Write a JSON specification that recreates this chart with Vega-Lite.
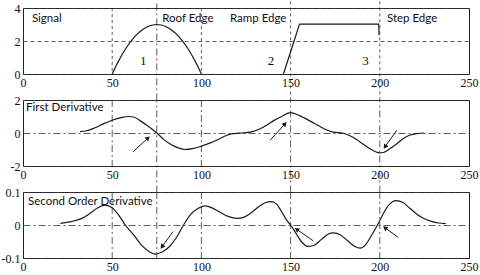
{
  "$schema": "https://vega.github.io/schema/vega-lite/v6.json",
  "padding": {"left": 0, "right": 0, "top": 0, "bottom": 0},
  "background": "white",
  "config": {
    "view": {"stroke": "#222", "strokeWidth": 1},
    "axis": {"labelFont": "Liberation Serif", "labelFontSize": 12, "labelColor": "#111", "domain": false, "ticks": false, "labelPadding": 3, "labelFlush": false, "labelOverlap": false, "labelBound": false}
  },
  "datasets": {
    "signal": [
      {"x": 50, "y": 0, "part": "roof"}, {"x": 52.5, "y": 0.57, "part": "roof"}, {"x": 55, "y": 1.08, "part": "roof"},
      {"x": 57.5, "y": 1.53, "part": "roof"}, {"x": 60, "y": 1.92, "part": "roof"}, {"x": 62.5, "y": 2.25, "part": "roof"},
      {"x": 65, "y": 2.52, "part": "roof"}, {"x": 67.5, "y": 2.73, "part": "roof"}, {"x": 70, "y": 2.88, "part": "roof"},
      {"x": 72.5, "y": 2.97, "part": "roof"}, {"x": 75, "y": 3.0, "part": "roof"}, {"x": 77.5, "y": 2.97, "part": "roof"},
      {"x": 80, "y": 2.88, "part": "roof"}, {"x": 82.5, "y": 2.73, "part": "roof"}, {"x": 85, "y": 2.52, "part": "roof"},
      {"x": 87.5, "y": 2.25, "part": "roof"}, {"x": 90, "y": 1.92, "part": "roof"}, {"x": 92.5, "y": 1.53, "part": "roof"},
      {"x": 95, "y": 1.08, "part": "roof"}, {"x": 97.5, "y": 0.57, "part": "roof"}, {"x": 100, "y": 0, "part": "roof"},
      {"x": 146, "y": 0, "part": "ramp"}, {"x": 155, "y": 3.02, "part": "ramp"}, {"x": 199.4, "y": 3.02, "part": "ramp"},
      {"x": 199.6, "y": 2.35, "part": "ramp"}
    ],
    "d1": [
      {"x": 32, "y": 0.08}, {"x": 35, "y": 0.12}, {"x": 40, "y": 0.3}, {"x": 45, "y": 0.55}, {"x": 50, "y": 0.77},
      {"x": 55, "y": 0.93}, {"x": 59, "y": 1.0}, {"x": 62, "y": 0.97}, {"x": 66, "y": 0.72}, {"x": 70, "y": 0.42},
      {"x": 75, "y": 0.0}, {"x": 79, "y": -0.4}, {"x": 83, "y": -0.7}, {"x": 87, "y": -0.9}, {"x": 91, "y": -1.0},
      {"x": 95, "y": -0.95}, {"x": 100, "y": -0.8}, {"x": 105, "y": -0.6}, {"x": 110, "y": -0.36}, {"x": 114, "y": -0.15},
      {"x": 117, "y": -0.05}, {"x": 121, "y": -0.01}, {"x": 125, "y": 0.02}, {"x": 129, "y": 0.1}, {"x": 133, "y": 0.26},
      {"x": 137, "y": 0.5}, {"x": 141, "y": 0.78}, {"x": 145, "y": 1.0}, {"x": 150, "y": 1.23}, {"x": 155, "y": 1.05},
      {"x": 161, "y": 0.72}, {"x": 166, "y": 0.42}, {"x": 170, "y": 0.2}, {"x": 174, "y": 0.05}, {"x": 179, "y": 0.0},
      {"x": 183, "y": -0.15}, {"x": 187, "y": -0.4}, {"x": 191, "y": -0.7}, {"x": 195, "y": -0.98}, {"x": 198, "y": -1.15},
      {"x": 200, "y": -1.2}, {"x": 202, "y": -1.18}, {"x": 205, "y": -1.0}, {"x": 209, "y": -0.7}, {"x": 213, "y": -0.35},
      {"x": 217, "y": -0.12}, {"x": 221, "y": -0.03}, {"x": 225, "y": 0}
    ],
    "d2": [
      {"x": 21, "y": 0.005}, {"x": 27, "y": 0.01}, {"x": 33, "y": 0.02}, {"x": 38, "y": 0.037}, {"x": 42, "y": 0.052},
      {"x": 46, "y": 0.06}, {"x": 50, "y": 0.052}, {"x": 54, "y": 0.027}, {"x": 57.3, "y": 0.0}, {"x": 62, "y": -0.03},
      {"x": 67, "y": -0.064}, {"x": 71, "y": -0.082}, {"x": 74, "y": -0.088}, {"x": 78, "y": -0.082}, {"x": 82, "y": -0.066},
      {"x": 86, "y": -0.038}, {"x": 90, "y": 0}, {"x": 94, "y": 0.032}, {"x": 98, "y": 0.05}, {"x": 102, "y": 0.058},
      {"x": 106, "y": 0.052}, {"x": 110, "y": 0.04}, {"x": 115, "y": 0.026}, {"x": 120, "y": 0.02}, {"x": 124, "y": 0.024},
      {"x": 128, "y": 0.037}, {"x": 132, "y": 0.055}, {"x": 136, "y": 0.068}, {"x": 139, "y": 0.071}, {"x": 142, "y": 0.064},
      {"x": 145, "y": 0.04}, {"x": 148, "y": 0.013}, {"x": 150, "y": 0}, {"x": 153, "y": -0.025}, {"x": 156, "y": -0.05},
      {"x": 159.5, "y": -0.065}, {"x": 163, "y": -0.062}, {"x": 167, "y": -0.045}, {"x": 171, "y": -0.028}, {"x": 174, "y": -0.024},
      {"x": 178, "y": -0.03}, {"x": 182, "y": -0.048}, {"x": 186, "y": -0.065}, {"x": 189, "y": -0.07}, {"x": 192, "y": -0.06},
      {"x": 195, "y": -0.035}, {"x": 198.7, "y": 0}, {"x": 202, "y": 0.035}, {"x": 205, "y": 0.06}, {"x": 209, "y": 0.074},
      {"x": 213, "y": 0.068}, {"x": 217, "y": 0.05}, {"x": 221, "y": 0.032}, {"x": 225, "y": 0.019}, {"x": 229, "y": 0.011},
      {"x": 233, "y": 0.006}, {"x": 237, "y": 0.004}
    ],
    "vmarks": [{"x": 50}, {"x": 75}, {"x": 100}, {"x": 150}, {"x": 200}],
    "labels": [
      {"panel": 1, "x": 5, "y": 3.33, "text": "Signal"},
      {"panel": 1, "x": 78, "y": 3.33, "text": "Roof Edge"},
      {"panel": 1, "x": 116, "y": 3.33, "text": "Ramp Edge"},
      {"panel": 1, "x": 204, "y": 3.33, "text": "Step Edge"},
      {"panel": 2, "x": 1.7, "y": 1.5, "text": "First Derivative"},
      {"panel": 3, "x": 2.8, "y": 0.07, "text": "Second Order Derivative"}
    ],
    "nums": [
      {"x": 67.4, "y": 0.8, "text": "1"},
      {"x": 139, "y": 0.8, "text": "2"},
      {"x": 192, "y": 0.8, "text": "3"}
    ],
    "arrows": [
      {"panel": 2, "x": 61.7, "y": -1.14, "x2": 70.1, "y2": -0.3, "heading": 47},
      {"panel": 2, "x": 138.5, "y": -0.44, "x2": 146.9, "y2": 0.56, "heading": 42},
      {"panel": 2, "x": 209.5, "y": 0.16, "x2": 202.9, "y2": -0.84, "heading": 215},
      {"panel": 3, "x": 84.1, "y": -0.02, "x2": 77.9, "y2": -0.066, "heading": 216},
      {"panel": 3, "x": 162.7, "y": -0.048, "x2": 153.4, "y2": -0.013, "heading": 305},
      {"panel": 3, "x": 210.4, "y": -0.038, "x2": 202.9, "y2": -0.008, "heading": 307}
    ]
  },
  "spacing": 26,
  "bounds": "flush",
  "vconcat": [
    {
      "width": 446, "height": 66,
      "layer": [
        {
          "data": {"name": "vmarks"},
          "transform": [{"filter": "datum.x == 50 || datum.x == 100"}],
          "mark": {"type": "rule", "color": "#333", "strokeWidth": 0.8, "strokeDash": [3, 3]},
          "encoding": {"x": {"field": "x", "type": "quantitative", "title": null, "scale": {"domain": [0, 250], "nice": false, "zero": false}}}
        },
        {
          "data": {"name": "vmarks"},
          "transform": [{"filter": "datum.x == 150 || datum.x == 200"}],
          "mark": {"type": "rule", "color": "#333", "strokeWidth": 0.8, "strokeDash": [3, 3]},
          "encoding": {
            "x": {"field": "x", "type": "quantitative", "title": null, "scale": {"domain": [0, 250], "nice": false, "zero": false}},
            "y": {"datum": -1.6, "type": "quantitative", "title": null, "scale": {"domain": [0, 4], "nice": false, "zero": false}},
            "y2": {"datum": 4.42}
          }
        },
        {
          "data": {"name": "vmarks"},
          "transform": [{"filter": "datum.x == 75"}],
          "mark": {"type": "rule", "color": "#333", "strokeWidth": 0.8, "strokeDash": [7, 3, 2, 3]},
          "encoding": {
            "x": {"field": "x", "type": "quantitative", "title": null, "scale": {"domain": [0, 250], "nice": false, "zero": false}},
            "y": {"datum": -1.6, "type": "quantitative", "title": null, "scale": {"domain": [0, 4], "nice": false, "zero": false}},
            "y2": {"datum": 4.42}
          }
        },
        {
          "data": {"name": "signal"},
          "mark": {"type": "line", "color": "#1a1a1a", "strokeWidth": 1.2},
          "encoding": {
            "x": {"field": "x", "type": "quantitative", "title": null, "scale": {"domain": [0, 250], "nice": false, "zero": false}, "axis": {"values": [0, 50, 100, 150, 200, 250], "grid": false}},
            "y": {"field": "y", "type": "quantitative", "title": null, "scale": {"domain": [0, 4], "nice": false, "zero": false}, "axis": {"values": [0, 2, 4], "tickCount": 20, "grid": true, "gridColor": "#333", "gridWidth": 0.8, "gridDash": [4, 3], "labelExpr": "replace(format(datum.value, '~r'), '−', '-')"}},
            "detail": {"field": "part"}
          }
        },
        {
          "data": {"name": "labels"},
          "transform": [{"filter": "datum.panel == 1"}],
          "mark": {"type": "text", "font": "Lato", "fontSize": 11.5, "align": "left", "baseline": "middle", "color": "#111"},
          "encoding": {
            "x": {"field": "x", "type": "quantitative", "title": null, "scale": {"domain": [0, 250], "nice": false, "zero": false}},
            "y": {"field": "y", "type": "quantitative", "title": null, "scale": {"domain": [0, 4], "nice": false, "zero": false}},
            "text": {"field": "text"}
          }
        },
        {
          "data": {"name": "nums"},
          "mark": {"type": "text", "font": "Liberation Serif", "fontSize": 13, "align": "center", "baseline": "middle", "color": "#111"},
          "encoding": {
            "x": {"field": "x", "type": "quantitative", "title": null, "scale": {"domain": [0, 250], "nice": false, "zero": false}},
            "y": {"field": "y", "type": "quantitative", "title": null, "scale": {"domain": [0, 4], "nice": false, "zero": false}},
            "text": {"field": "text"}
          }
        }
      ]
    },
    {
      "width": 446, "height": 66,
      "layer": [
        {
          "data": {"name": "vmarks"},
          "transform": [{"filter": "datum.x == 50 || datum.x == 100"}],
          "mark": {"type": "rule", "color": "#333", "strokeWidth": 0.8, "strokeDash": [7, 3, 2, 3]},
          "encoding": {"x": {"field": "x", "type": "quantitative", "title": null, "scale": {"domain": [0, 250], "nice": false, "zero": false}}}
        },
        {
          "data": {"name": "vmarks"},
          "transform": [{"filter": "datum.x == 75 || datum.x == 150 || datum.x == 200"}],
          "mark": {"type": "rule", "color": "#333", "strokeWidth": 0.8, "strokeDash": [7, 3, 2, 3]},
          "encoding": {
            "x": {"field": "x", "type": "quantitative", "title": null, "scale": {"domain": [0, 250], "nice": false, "zero": false}},
            "y": {"datum": -3.6, "type": "quantitative", "title": null, "scale": {"domain": [-2, 2], "nice": false, "zero": false}},
            "y2": {"datum": 2}
          }
        },
        {
          "data": {"name": "d1"},
          "mark": {"type": "line", "color": "#1a1a1a", "strokeWidth": 1.2, "interpolate": "monotone"},
          "encoding": {
            "x": {"field": "x", "type": "quantitative", "title": null, "scale": {"domain": [0, 250], "nice": false, "zero": false}, "axis": {"values": [0, 50, 100, 150, 200, 250], "grid": false}},
            "y": {"field": "y", "type": "quantitative", "title": null, "scale": {"domain": [-2, 2], "nice": false, "zero": false}, "axis": {"values": [-2, 0, 2], "tickCount": 20, "grid": true, "gridColor": "#333", "gridWidth": 0.8, "gridDash": [7, 3, 2, 3], "labelExpr": "replace(format(datum.value, '~r'), '−', '-')"}}
          }
        },
        {
          "data": {"name": "arrows"},
          "transform": [{"filter": "datum.panel == 2"}],
          "mark": {"type": "rule", "color": "#1a1a1a", "strokeWidth": 1},
          "encoding": {
            "x": {"field": "x", "type": "quantitative", "title": null, "scale": {"domain": [0, 250], "nice": false, "zero": false}},
            "y": {"field": "y", "type": "quantitative", "title": null, "scale": {"domain": [-2, 2], "nice": false, "zero": false}},
            "x2": {"field": "x2"},
            "y2": {"field": "y2"}
          }
        },
        {
          "data": {"name": "arrows"},
          "transform": [{"filter": "datum.panel == 2"}],
          "mark": {"type": "point", "shape": "triangle-up", "filled": true, "size": 28, "color": "#1a1a1a", "opacity": 1},
          "encoding": {
            "x": {"field": "x2", "type": "quantitative", "title": null, "scale": {"domain": [0, 250], "nice": false, "zero": false}},
            "y": {"field": "y2", "type": "quantitative", "title": null, "scale": {"domain": [-2, 2], "nice": false, "zero": false}},
            "angle": {"field": "heading", "type": "quantitative", "scale": null}
          }
        },
        {
          "data": {"name": "labels"},
          "transform": [{"filter": "datum.panel == 2"}],
          "mark": {"type": "text", "font": "Lato", "fontSize": 11.5, "align": "left", "baseline": "middle", "color": "#111"},
          "encoding": {
            "x": {"field": "x", "type": "quantitative", "title": null, "scale": {"domain": [0, 250], "nice": false, "zero": false}},
            "y": {"field": "y", "type": "quantitative", "title": null, "scale": {"domain": [-2, 2], "nice": false, "zero": false}},
            "text": {"field": "text"}
          }
        }
      ]
    },
    {
      "width": 446, "height": 66,
      "layer": [
        {
          "data": {"name": "vmarks"},
          "mark": {"type": "rule", "color": "#333", "strokeWidth": 0.8, "strokeDash": [7, 3, 2, 3]},
          "encoding": {"x": {"field": "x", "type": "quantitative", "title": null, "scale": {"domain": [0, 250], "nice": false, "zero": false}}}
        },
        {
          "data": {"name": "d2"},
          "mark": {"type": "line", "color": "#1a1a1a", "strokeWidth": 1.2, "interpolate": "monotone"},
          "encoding": {
            "x": {"field": "x", "type": "quantitative", "title": null, "scale": {"domain": [0, 250], "nice": false, "zero": false}, "axis": {"values": [0, 50, 100, 150, 200, 250], "grid": false}},
            "y": {"field": "y", "type": "quantitative", "title": null, "scale": {"domain": [-0.1, 0.1], "nice": false, "zero": false}, "axis": {"values": [-0.1, 0, 0.1], "tickCount": 20, "grid": true, "gridColor": "#333", "gridWidth": 0.8, "gridDash": [7, 3, 2, 3], "labelExpr": "replace(format(datum.value, '~r'), '−', '-')"}}
          }
        },
        {
          "data": {"name": "arrows"},
          "transform": [{"filter": "datum.panel == 3"}],
          "mark": {"type": "rule", "color": "#1a1a1a", "strokeWidth": 1},
          "encoding": {
            "x": {"field": "x", "type": "quantitative", "title": null, "scale": {"domain": [0, 250], "nice": false, "zero": false}},
            "y": {"field": "y", "type": "quantitative", "title": null, "scale": {"domain": [-0.1, 0.1], "nice": false, "zero": false}},
            "x2": {"field": "x2"},
            "y2": {"field": "y2"}
          }
        },
        {
          "data": {"name": "arrows"},
          "transform": [{"filter": "datum.panel == 3"}],
          "mark": {"type": "point", "shape": "triangle-up", "filled": true, "size": 28, "color": "#1a1a1a", "opacity": 1},
          "encoding": {
            "x": {"field": "x2", "type": "quantitative", "title": null, "scale": {"domain": [0, 250], "nice": false, "zero": false}},
            "y": {"field": "y2", "type": "quantitative", "title": null, "scale": {"domain": [-0.1, 0.1], "nice": false, "zero": false}},
            "angle": {"field": "heading", "type": "quantitative", "scale": null}
          }
        },
        {
          "data": {"name": "labels"},
          "transform": [{"filter": "datum.panel == 3"}],
          "mark": {"type": "text", "font": "Lato", "fontSize": 11.5, "align": "left", "baseline": "middle", "color": "#111"},
          "encoding": {
            "x": {"field": "x", "type": "quantitative", "title": null, "scale": {"domain": [0, 250], "nice": false, "zero": false}},
            "y": {"field": "y", "type": "quantitative", "title": null, "scale": {"domain": [-0.1, 0.1], "nice": false, "zero": false}},
            "text": {"field": "text"}
          }
        }
      ]
    }
  ]
}
